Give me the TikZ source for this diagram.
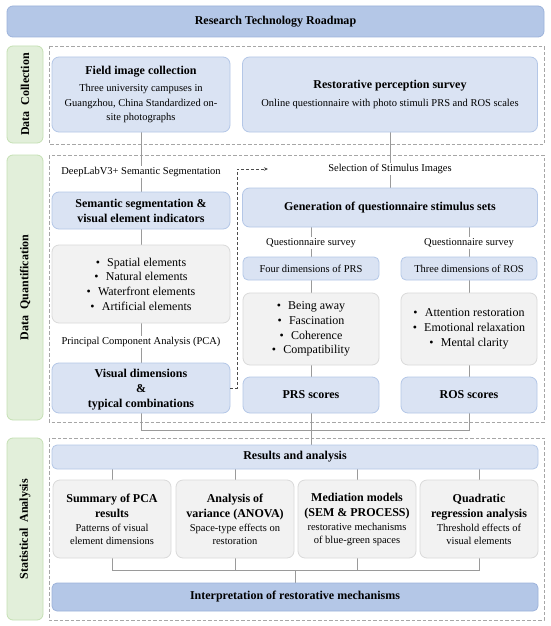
\documentclass[tikz,border=0pt]{standalone}
\usepackage{fontspec}
\setmainfont{Liberation Serif}
\usetikzlibrary{arrows.meta,calc}
\pgfdeclarelayer{bg}
\pgfsetlayers{bg,main}
\definecolor{titlefill}{HTML}{B4C7E7}
\definecolor{titleline}{HTML}{9DB3DB}
\definecolor{boxfill}{HTML}{DAE3F3}
\definecolor{boxline}{HTML}{B4C7E7}
\definecolor{grayfill}{HTML}{F2F2F2}
\definecolor{grayline}{HTML}{DADADA}
\definecolor{greenfill}{HTML}{E2EFDA}
\definecolor{greenline}{HTML}{C5E0B4}
\definecolor{frameline}{HTML}{A6A6A6}
\definecolor{connline}{HTML}{9A9A9A}
\newcommand{\hd}{\fontsize{12}{15}\selectfont\bfseries}
\newcommand{\ds}{\fontsize{10.5}{14.5}\selectfont}
\newcommand{\dss}{\fontsize{10.5}{13}\selectfont}
\newcommand{\bl}{\fontsize{12}{14.7}\selectfont}
\newcommand{\bu}{\textbullet\hspace{0.6em}}
\begin{document}
\begin{tikzpicture}[x=1pt,y=-1pt,
  base/.style={rounded corners=7pt, line width=0.8pt, align=center, inner sep=2pt, text=black},
  bbox/.style={base, fill=boxfill, draw=boxline},
  gbox/.style={base, fill=grayfill, draw=grayline},
  tbar/.style={base, rounded corners=6pt, fill=titlefill, draw=titleline},
  side/.style={base, rounded corners=6pt, fill=greenfill, draw=greenline},
  frame/.style={draw=frameline, line width=0.7pt, dash pattern=on 3.5pt off 2pt},
  conn/.style={draw=connline, line width=0.8pt},
  lbl/.style={fill=white, inner sep=1.5pt, font=\ds},
  sz/.style 2 args={minimum width=#1pt, minimum height=#2pt},
  dasharr/.style={draw=black!70, line width=0.7pt, dash pattern=on 3pt off 2pt, -{Stealth[length=4pt,width=3.5pt]}}
]
\useasboundingbox (0,0) rectangle (550,626);

% title
\node[tbar, sz={537}{31}, font=\hd] (title) at (275.5,21.5) {Research Technology Roadmap};

% side labels
\node[side, sz={36}{97}] (dc) at (25,94.5) {\rotatebox{90}{\hd Data\hspace{0.5em}Collection}};
\node[side, sz={36}{265}] (dq) at (25,287.5) {\rotatebox{90}{\hd Data\hspace{0.5em}Quantification}};
\node[side, sz={36}{182}] (sa) at (25,529) {\rotatebox{90}{\hd Statistical\hspace{0.5em}Analysis}};

% section 1
\node[bbox, sz={178}{75}, font=\ds] (field) at (141,94.5)
  {{\hd Field image collection}\\[3pt]Three university campuses in\\Guangzhou, China Standardized on-\\site photographs};
\node[bbox, sz={295}{75}, font=\ds] (survey) at (390,94.5)
  {{\hd Restorative perception survey}\\[4pt]Online questionnaire with photo stimuli PRS and ROS scales};

% section 2 left
\node[lbl] (dl) at (141,172) {DeepLabV3+ Semantic Segmentation};
\node[bbox, sz={178}{37}, font=\hd] (semseg) at (141,210.5) {Semantic segmentation \&\\visual element indicators};
\node[gbox, sz={178}{78}, font=\bl] (elems) at (141,284)
  {\bu Spatial elements\\\bu Natural elements\\\bu Waterfront elements\\\bu Artificial elements};
\node[lbl] (pca) at (141,342) {Principal Component Analysis (PCA)};
\node[bbox, sz={178}{50}, font=\hd, text depth=0pt] (vd) at (141,388) {Visual dimensions\\\&\\typical combinations};

% section 2 right
\node[lbl] (sel) at (390,169) {Selection of Stimulus Images};
\node[bbox, sz={295}{39}, font=\hd] (gen) at (390,207.5) {Generation of questionnaire stimulus sets};
\node[lbl] (qs1) at (311,243) {Questionnaire survey};
\node[lbl] (qs2) at (469,243) {Questionnaire survey};
\node[bbox, rounded corners=5pt, sz={136}{23}, font=\ds] (fd) at (311,268.5) {Four dimensions of PRS};
\node[bbox, rounded corners=5pt, sz={136}{23}, font=\ds] (td) at (469,268.5) {Three dimensions of ROS};
\node[gbox, sz={136}{72}, font=\bl] (prsb) at (311,329)
  {\bu Being away\\\bu Fascination\\\bu Coherence\\\bu Compatibility};
\node[gbox, sz={136}{72}, font=\bl] (rosb) at (469,329)
  {\bu Attention restoration\\\bu Emotional relaxation\\\bu Mental clarity};
\node[bbox, sz={136}{36}, font=\hd] (prssc) at (311,395) {PRS scores};
\node[bbox, sz={136}{36}, font=\hd] (rossc) at (469,395) {ROS scores};

% section 3
\node[bbox, rounded corners=5pt, sz={486}{24}, font=\hd] (res) at (295,457) {Results and analysis};
\node[gbox, sz={118}{78}, font=\dss] (b1) at (112,519)
  {{\hd Summary of PCA}\\[2pt]{\hd results}\\[1pt]Patterns of visual\\element dimensions};
\node[gbox, sz={118}{78}, font=\dss] (b2) at (235,519)
  {{\hd Analysis of}\\[2pt]{\hd variance (ANOVA)}\\[1pt]Space-type effects on\\restoration};
\node[gbox, sz={118}{78}, font=\dss] (b3) at (357,519)
  {{\hd Mediation models}\\[2pt]{\hd (SEM \& PROCESS)}\\[1pt]restorative mechanisms\\of blue-green spaces};
\node[gbox, sz={118}{78}, font=\dss] (b4) at (479,519)
  {{\hd Quadratic}\\[2pt]{\hd regression analysis}\\[1pt]Threshold effects of\\visual elements};
\node[tbar, rounded corners=5pt, sz={486}{28}, font=\hd] (interp) at (295,597) {Interpretation of restorative mechanisms};

\coordinate (j2) at (0,430);
\coordinate (j3) at (0,570);
\coordinate (acorner) at (237,169);
\coordinate (arrend) at (268,169);

\begin{pgfonlayer}{bg}
  \fill[white] (0,0) rectangle (550,626);
  \draw[frame] (49,46) rectangle (544,144);
  \draw[frame] (49,155) rectangle (544,422);
  \draw[frame] (49,438) rectangle (544,620);
  \draw[conn] (field.south) -- (semseg.north);
  \draw[conn] (semseg.south) -- (elems.north);
  \draw[conn] (elems.south) -- (vd.north);
  \draw[conn] (survey.south) -- (gen.north);
  \draw[conn] (gen.south -| fd.north) -- (fd.north);
  \draw[conn] (gen.south -| td.north) -- (td.north);
  \draw[conn] (fd.south) -- (prsb.north);
  \draw[conn] (td.south) -- (rosb.north);
  \draw[conn] (prsb.south) -- (prssc.north);
  \draw[conn] (rosb.south) -- (rossc.north);
  \draw[conn] (vd.south) |- (j2 -| rossc.south) -- (rossc.south);
  \draw[conn] (prssc.south) -- (prssc.south |- res.north);
  \draw[conn] (res.south -| b1.north) -- (b1.north);
  \draw[conn] (res.south -| b2.north) -- (b2.north);
  \draw[conn] (res.south -| b3.north) -- (b3.north);
  \draw[conn] (res.south -| b4.north) -- (b4.north);
  \draw[conn] (b1.south) |- (j3 -| b4.south) -- (b4.south);
  \draw[conn] (b2.south) -- (b2.south |- j3);
  \draw[conn] (b3.south) -- (b3.south |- j3);
  \draw[conn] (interp.north) -- (interp.north |- j3);
\end{pgfonlayer}
\draw[dasharr] (vd.east) -| (acorner) -- (arrend);
\end{tikzpicture}
\end{document}
